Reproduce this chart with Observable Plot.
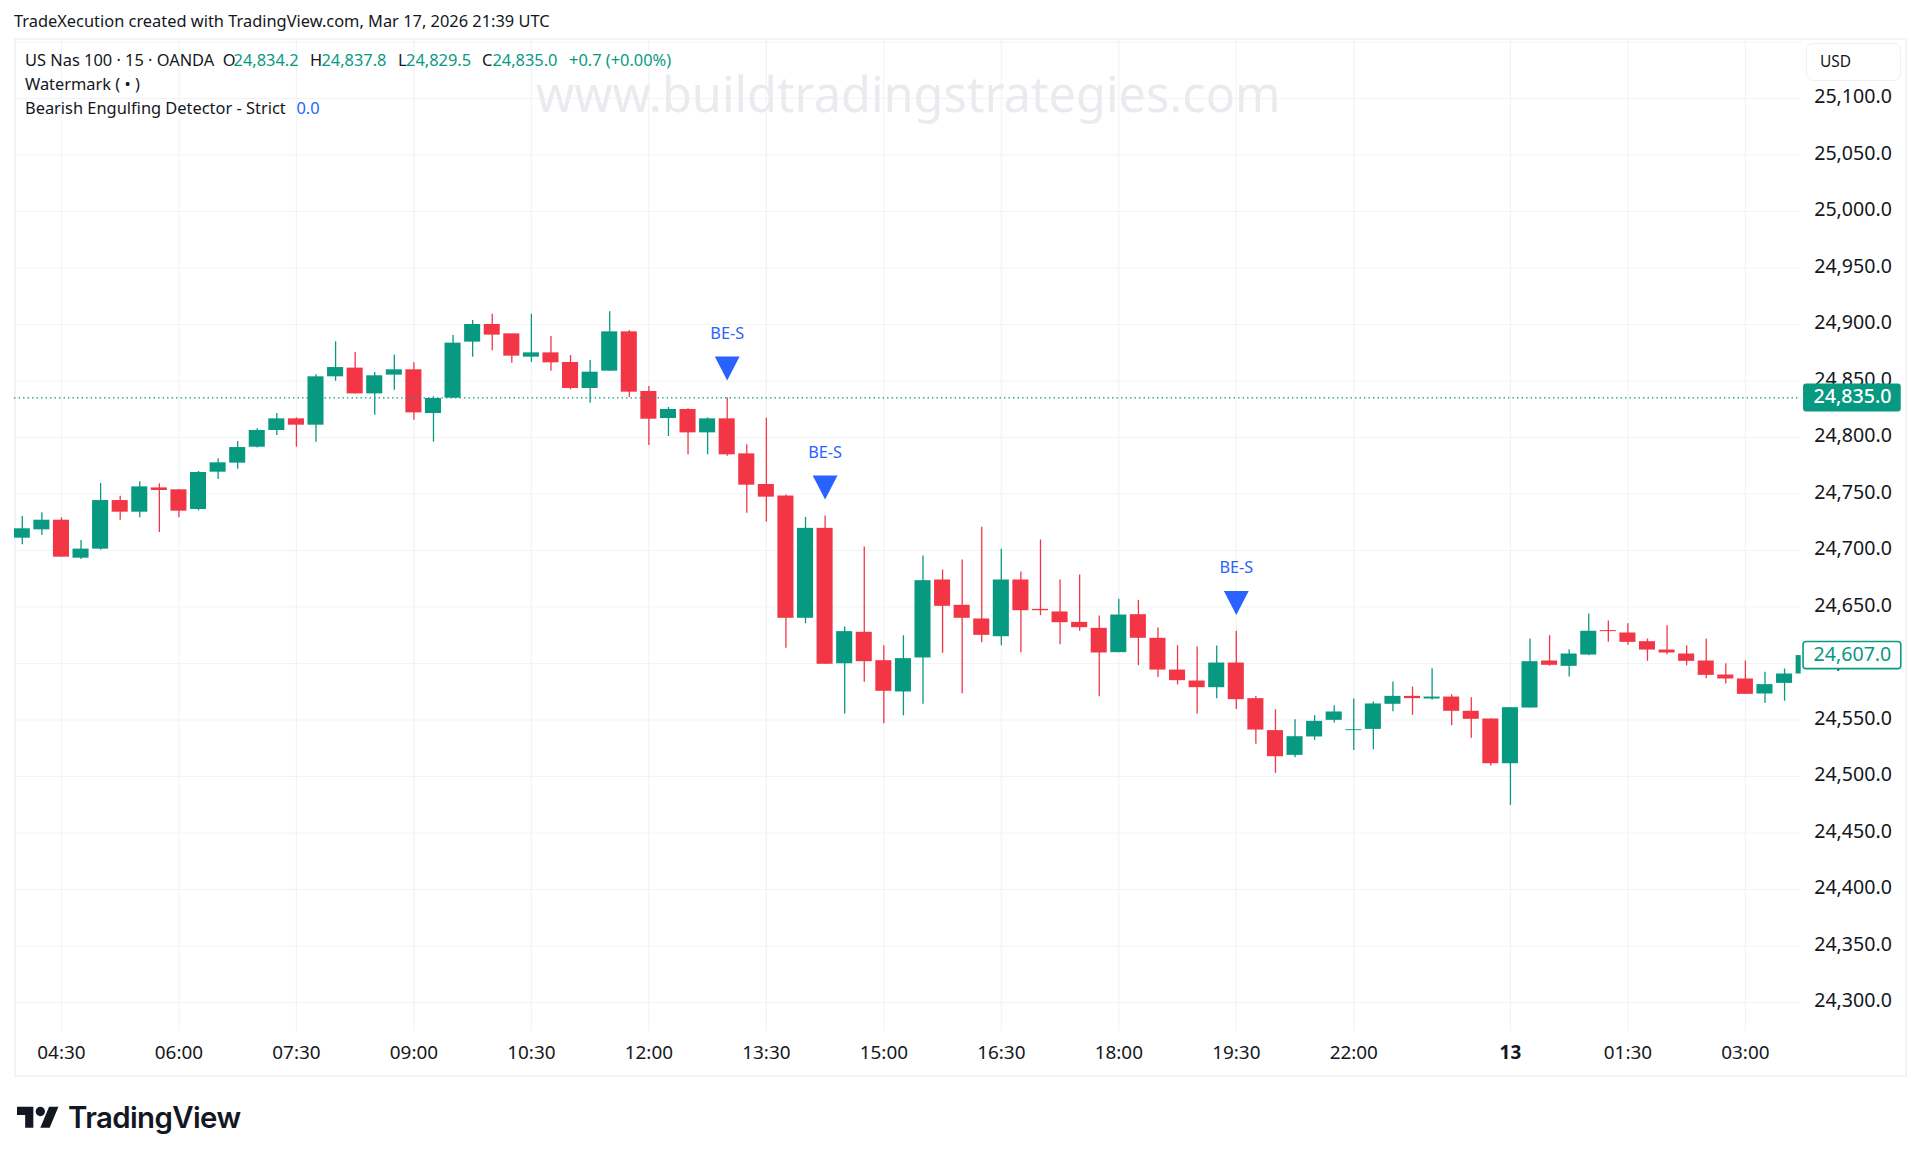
<!DOCTYPE html>
<html>
<head>
<meta charset="utf-8">
<script src="https://cdn.jsdelivr.net/npm/d3@7"></script>
<script src="https://cdn.jsdelivr.net/npm/@observablehq/plot@0.6"></script>
<style>
  html, body { margin: 0; padding: 0; background: #fff; width: 1920px; height: 1161px; overflow: hidden; }
  body { position: relative; font-family: "Noto Sans", sans-serif; color: #131722; }
  .abs { position: absolute; white-space: nowrap; line-height: 1; }
  #chart { position: absolute; left: 0; top: 38px; }
  #frame { position: absolute; left: 13.5px; top: 38px; width: 1889.5px; height: 1035px; border: 2px solid #f3f3f4; pointer-events: none; }
  .g { color: #089981; }
  .b { color: #2962ff; }
  .leg { font-size: 16.4px; left: 25px; }
  .leg span { position: absolute; top: 0; }
</style>
</head>
<body>
<div class="abs" id="title" style="left:14px;top:13px;font-size:16.4px;">TradeXecution created with TradingView.com, Mar 17, 2026 21:39 UTC</div>
<div id="frame"></div>
<div id="chart"></div>
<div class="abs" id="wm" style="left:536px;top:69px;font-size:48.7px;color:#e9ebee;">www.buildtradingstrategies.com</div>
<div class="abs leg" style="top:52px;">US Nas 100 · 15 · OANDA
  <span style="left:197.8px;">O</span><span class="g" style="left:208.5px;">24,834.2</span>
  <span style="left:285px;">H</span><span class="g" style="left:296.4px;">24,837.8</span>
  <span style="left:373px;">L</span><span class="g" style="left:381px;">24,829.5</span>
  <span style="left:457px;">C</span><span class="g" style="left:467.4px;">24,835.0</span>
  <span class="g" style="left:544px;">+0.7 (+0.00%)</span>
</div>
<div class="abs leg" style="top:76px;">Watermark ( • )</div>
<div class="abs leg" style="top:100px;">Bearish Engulfing Detector - Strict<span class="b" style="left:271.4px;">0.0</span></div>
<div class="abs" style="left:1806px;top:43px;width:93px;height:36px;border:1px solid #f0f1f4;border-radius:7px;"></div>
<div class="abs" style="left:1820px;top:54px;font-size:15.5px;">USD</div>
<svg class="abs" style="left:17px;top:1102px;" width="42" height="33" viewBox="0 0 36 28"><path fill="#131722" d="M14 22H7V11H0V4h14v18zM28 22h-8l7.5-18h8L28 22z"/><circle fill="#131722" cx="20" cy="8" r="4"/></svg>
<div class="abs" style="left:68px;top:1103px;font-family:Inter,sans-serif;font-weight:600;font-size:29.4px;letter-spacing:-0.6px;color:#131722;">TradingView</div>

<script>
const openP = [
  24710.9,24718.3,24726.8,24693.2,24701.2,24744.2,24733.9,24755.4,24753.7,24736.3,
  24769.3,24777.3,24791.4,24806.2,24816.5,24810.9,24853.7,24861.4,24838.6,24855.2,
  24859.9,24821.2,24834.8,24884.4,24900,24891.7,24871.1,24874.9,24866.4,24843.4,
  24858.7,24893.5,24840.7,24816.8,24824.8,24804.1,24816.5,24785.5,24758.4,24748.2,
  24640,24719.6,24599.8,24627.6,24602.5,24574.8,24604.9,24673.9,24651.5,24639.4,
  24623.7,24673.9,24647.9,24645.6,24636.4,24631.1,24609.6,24643.2,24622.3,24594.2,
  24584.5,24578.6,24600.4,24568.9,24540.6,24518.7,24535,24549.7,24540.6,24541.7,
  24563.9,24570.9,24568.6,24570.3,24557.7,24550.9,24511.3,24560.6,24602.2,24597.5,
  24607.5,24629.1,24627,24619.3,24611.9,24608.4,24602.2,24589.8,24586.3,24573,
  24582.4,24590.7];
const closeP = [
  24719.2,24726.8,24694.1,24701.2,24744.2,24733.9,24756.3,24753.1,24734.8,24769,
  24777.6,24791.1,24806.2,24816.5,24810.9,24853.7,24861.9,24838.6,24854.6,24859.9,
  24821.8,24834.5,24883.5,24900,24890.6,24872,24874.9,24866.1,24843.4,24857.8,
  24893.5,24840.1,24816.2,24824.8,24804.1,24816.5,24784.7,24757.8,24747.2,24640,
  24719.6,24599.3,24628.2,24601.6,24575.4,24604.3,24673.3,24650.6,24640,24624.9,
  24673.9,24646.7,24646.7,24636.1,24631.7,24609.3,24642.9,24622.3,24594.2,24584.8,
  24578.6,24600.4,24568,24541.1,24517.5,24535.2,24548.8,24557.1,24541.4,24564.2,
  24570.9,24568.9,24570.3,24557.7,24550.6,24511.3,24560.9,24601.6,24598.4,24608.4,
  24628.5,24628.2,24618.7,24611.9,24609.3,24601.9,24589.5,24586.3,24572.7,24581.3,
  24590.7,24607];
const highP = [
  24730.1,24733.3,24728.9,24708.8,24759.3,24748.1,24760.8,24759,24753.7,24769.9,
  24781.1,24796.5,24807.7,24821.2,24817.4,24855.5,24884.7,24875.2,24857.5,24872.9,
  24866.1,24836,24890.3,24903.5,24909.1,24891.7,24909.1,24889.4,24872.6,24868.1,
  24911.2,24894.7,24845.1,24826.5,24825.4,24817.4,24835.1,24793.5,24817.1,24749.1,
  24729.3,24730.5,24632.3,24703.1,24615.8,24624.6,24695.1,24682.7,24691.6,24720.5,
  24701,24681,24709.3,24673.9,24678.3,24642,24656.8,24655.9,24631.4,24615.8,
  24614.6,24615.5,24628.5,24570.9,24559.1,24550.3,24553.8,24562.7,24568.6,24565.9,
  24583.6,24579.2,24595.4,24572.4,24569.8,24550.9,24560.9,24621.7,24624.6,24612.2,
  24643.8,24637.6,24635.2,24621.7,24633.5,24615.8,24621.7,24599.8,24602.2,24592.2,
  24595.1,24612];
const lowP = [
  24705,24713.3,24694,24692,24700.3,24726.8,24728.9,24715.9,24728.9,24735.1,
  24762.8,24772,24790.6,24801.8,24791.4,24795.9,24849.8,24838.6,24819.8,24841.9,
  24815.3,24795.9,24834.5,24871.1,24876.7,24865.8,24866.4,24858.7,24842.2,24830.4,
  24858.7,24835.4,24792.9,24800.9,24784.7,24784.7,24783.5,24733,24725.1,24613.4,
  24635.2,24599.3,24555.3,24583.3,24546.7,24553.8,24563.9,24609,24573.3,24618.4,
  24615.8,24609.6,24642.3,24616.7,24628.5,24570.6,24609.6,24598.1,24587.7,24581,
  24555.3,24568.9,24559.4,24528.5,24502.8,24516.7,24532,24547.3,24523.1,24523.7,
  24557.4,24554.1,24567.4,24545,24533.8,24509,24474.5,24560.6,24597.5,24588,
  24606.9,24618.7,24616.1,24601.9,24607.8,24598.1,24586.6,24581.9,24572.7,24564.7,
  24566.5,24586];

const xTickIdx = [2,8,14,20,26,32,38,44,50,56,62,68,82,88];
const xTickLabels = ["04:30","06:00","07:30","09:00","10:30","12:00","13:30","15:00","16:30","18:00","19:30","22:00","01:30","03:00"];
const dayTickIdx = [76];
const dayTickLabels = ["13"];
const yTicks = [24300,24350,24400,24450,24500,24550,24600,24650,24700,24750,24800,24850,24900,24950,25000,25050,25100];
const yGridExtra = [25150];
const signalIdx = [36,41,62];
const signalPrice = [24861,24755.8,24653.5];
const signalText = ["BE-S","BE-S","BE-S"];
const currentPrice = 24835;
const lastClose = 24607;

const UP = "#089981", DOWN = "#f23645", BLUE = "#2962ff", GRID = "#f2f3f5";
const candles = openP.map((o, i) => ({i, o, c: closeP[i], h: highP[i], l: lowP[i], col: closeP[i] >= o ? UP : DOWN}));
const signals = signalIdx.map((x, k) => ({x, y: signalPrice[k], t: signalText[k]}));
const downTri = { draw(ctx, size) { const r = Math.sqrt(size); ctx.moveTo(-r, -r * 0.97); ctx.lineTo(r, -r * 0.97); ctx.lineTo(0, r * 0.97); ctx.closePath(); } };
const fmt = d3.format(",.1f");
const labelFont = '"Noto Sans", sans-serif';

const chart = Plot.plot({
  width: 1920, height: 1038,
  marginLeft: 14, marginRight: 119.3, marginTop: 0, marginBottom: 45.3,
  style: {background: "transparent", fontFamily: labelFont, overflow: "visible"},
  x: {type: "linear", domain: [-0.398, 90.85]},
  y: {type: "linear", domain: [24274.6, 25153.1]},
  marks: [
    Plot.gridY(yTicks.concat(yGridExtra), {stroke: GRID, strokeOpacity: 1, strokeWidth: 1.2}),
    Plot.gridX(xTickIdx.concat(dayTickIdx), {stroke: GRID, strokeOpacity: 1, strokeWidth: 1.2}),
    Plot.axisY(yTicks, {anchor: "right", tickSize: 0, tickPadding: 13, dy: -1.5, tickFormat: fmt, fontSize: 19.6, fill: "#131722", label: null}),
    Plot.axisX(xTickIdx, {anchor: "bottom", tickSize: 0, tickPadding: 14, tickFormat: (d) => xTickLabels[xTickIdx.indexOf(d)], fontSize: 18.9, fill: "#131722", label: null}),
    Plot.axisX(dayTickIdx, {anchor: "bottom", tickSize: 0, tickPadding: 14, tickFormat: (d) => dayTickLabels[dayTickIdx.indexOf(d)], fontSize: 18.9, fontWeight: 700, fill: "#131722", label: null}),
    Plot.ruleX(candles, {x: "i", y1: "l", y2: "h", stroke: "col", strokeWidth: 1.3, clip: true}),
    Plot.rect(candles, {x1: (d) => d.i - 0.41, x2: (d) => d.i + 0.41, y1: "o", y2: "c", fill: "col", clip: true}),
    Plot.ruleY([currentPrice], {stroke: UP, strokeWidth: 1.2, strokeDasharray: "1.5 3"}),
    Plot.dot(signals, {x: "x", y: "y", symbol: downTri, r: 7, fill: BLUE, stroke: "none"}),
    Plot.text(signals, {x: "x", y: "y", text: "t", dy: -35, fill: BLUE, fontSize: 16.3}),
    Plot.rect([currentPrice], {x1: 90.97, x2: 95.96, y1: (d) => d - 12.4, y2: (d) => d + 12.4, fill: UP, rx: 3}),
    Plot.text([currentPrice], {x: 90.97, y: (d) => d, dx: 10, dy: -1, text: fmt, textAnchor: "start", fill: "#fff", fontSize: 19.6, fontWeight: 500}),
    Plot.rect([lastClose], {x1: 90.97, x2: 95.96, y1: (d) => d - 12, y2: (d) => d + 12, fill: "#fff", stroke: UP, strokeWidth: 1.6, rx: 3}),
    Plot.text([lastClose], {x: 90.97, y: (d) => d, dx: 10, dy: -1, text: fmt, textAnchor: "start", fill: UP, fontSize: 19.6, fontWeight: 400})
  ]
});
document.getElementById("chart").appendChild(chart);
</script>
</body>
</html>
